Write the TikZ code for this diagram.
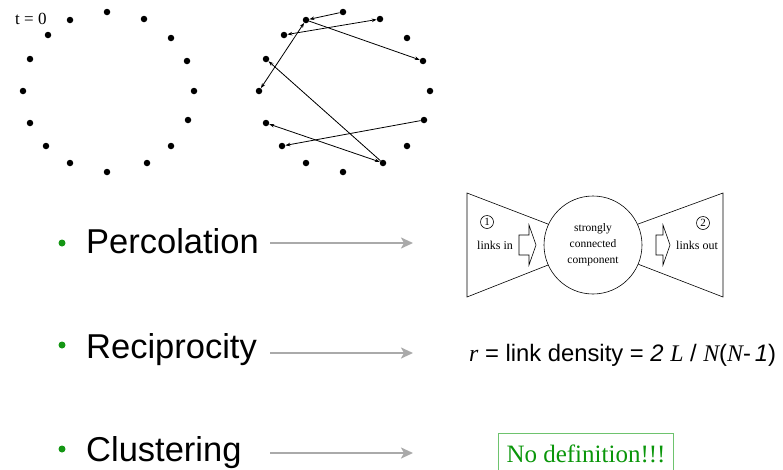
\documentclass[tikz,border=0pt]{standalone}
\usepackage{fontspec}
\setmainfont{Liberation Serif}
\newfontfamily\arialf{Liberation Sans}
\usetikzlibrary{arrows.meta}
\definecolor{bulgreen}{RGB}{20,150,20}
\definecolor{boxgreen}{RGB}{110,195,110}
\definecolor{txtgreen}{RGB}{10,150,10}
\definecolor{arrgray}{RGB}{170,170,170}
\tikzset{
  dotnode/.style={circle,fill=black,inner sep=0pt,minimum size=6.5pt},
  netarrow/.style={line width=0.8pt,-{Stealth[length=5pt,width=3.6pt]}},
  netboth/.style={line width=0.8pt,{Stealth[length=5pt,width=3.6pt]}-{Stealth[length=5pt,width=3.6pt]}},
  bulletnode/.style={circle,fill=bulgreen,inner sep=0pt,minimum size=7pt},
  itemtext/.style={anchor=base west,inner sep=0pt,font=\arialf\fontsize{34.5}{40}\selectfont},
  grayarrow/.style={draw=arrgray,line width=2.4pt,-{Stealth[length=12pt,width=11pt,inset=3pt]}},
  smalltext/.style={font=\fontsize{11.5}{16}\selectfont,align=center,inner sep=0pt},
  numcirc/.style={circle,draw,line width=0.6pt,inner sep=0pt,minimum size=13pt,font=\fontsize{11}{11}\selectfont},
}
\begin{document}
\begin{tikzpicture}[x=1pt,y=-1pt]
\useasboundingbox (0,0) rectangle (783,469);
% t = 0
\node[anchor=base west,inner sep=0pt,font=\fontsize{17}{20}\selectfont] (tlab) at (15,24) {t = 0};
% networks
\foreach \n/\x/\y in {0/107/12,1/144/19,2/171/38,3/187/61,4/194/91,5/188/120,6/171/146,7/147/163,8/107/172,9/70/163,10/46/146,11/30/123,12/23/91,13/30/59,14/48/35,15/70/20}{
  \node[dotnode] (a\n) at (\x,\y) {};
  \pgfmathsetmacro{\xb}{\x+236}
  \node[dotnode] (b\n) at (\xb,\y) {};
}
% right network links
\draw[netarrow] (b0) -- (b15);
\draw[netboth] (b14) -- (b1);
\draw[netarrow] (b15) -- (b3);
\draw[netboth] (b12) -- (b15);
\draw[netarrow] (b7) -- (b13);
\draw[netarrow] (b5) -- (b10);
\draw[netboth] (b11) -- (b7);
% items
\node[bulletnode] (bul1) at (62,243) {};
\node[itemtext] (perc) at (86,253) {Percolation};
\node[bulletnode] (bul2) at (62,345) {};
\node[itemtext] (reci) at (86,358) {Reciprocity};
\node[bulletnode] (bul3) at (62,449) {};
\node[itemtext] (clus) at (86,461) {Clustering};
\coordinate (g1s) at (270,243); \coordinate (g1e) at (413,243);
\coordinate (g2s) at (270,353); \coordinate (g2e) at (413,353);
\coordinate (g3s) at (270,453); \coordinate (g3e) at (413,453);
\draw[grayarrow] (g1s) -- (g1e);
\draw[grayarrow] (g2s) -- (g2e);
\draw[grayarrow] (g3s) -- (g3e);
% bow tie
\node[circle,draw,line width=0.6pt,minimum size=98pt,inner sep=0pt,smalltext] (scc) at (593,245) {strongly\\connected\\component};
\coordinate (lt) at (467,193); \coordinate (lb) at (467,297);
\coordinate (rt) at (723,193); \coordinate (rb) at (723,297);
\draw[line width=0.6pt] (scc.155) -- (lt) -- (lb) -- (scc.204);
\draw[line width=0.6pt] (scc.25) -- (rt) -- (rb) -- (scc.-23);
\node[numcirc] (n1) at (487,222) {1};
\node[numcirc] (n2) at (703,223) {2};
\node[smalltext,font=\fontsize{12}{14}\selectfont] (lin) at (495,245) {links in};
\node[smalltext,font=\fontsize{12}{14}\selectfont] (lout) at (697,245) {links out};
\draw[line width=0.6pt] (519,235) -- (529,235) -- (529,225) -- (536,245) -- (529,265) -- (529,255) -- (519,255) -- cycle;
\draw[line width=0.6pt] (656,235) -- (663,235) -- (663,225) -- (670,245) -- (663,265) -- (663,255) -- (656,255) -- cycle;
% formula
\node[anchor=base west,inner sep=0pt,font=\arialf\fontsize{23.8}{28}\selectfont] (form) at (469,361)
  {{\rmfamily\itshape r} = link density = {\itshape 2} {\rmfamily\itshape L} / {\rmfamily\itshape N}({\rmfamily\itshape N}-\,{\itshape 1})};
% no definition box
\node[anchor=base west,draw=boxgreen,line width=1pt,text=txtgreen,inner xsep=8pt,inner ysep=0pt,text height=29pt,text depth=14pt,font=\fontsize{25}{28}\selectfont] (nodef) at (498,462) {No definition!!!};
\end{tikzpicture}
\end{document}
